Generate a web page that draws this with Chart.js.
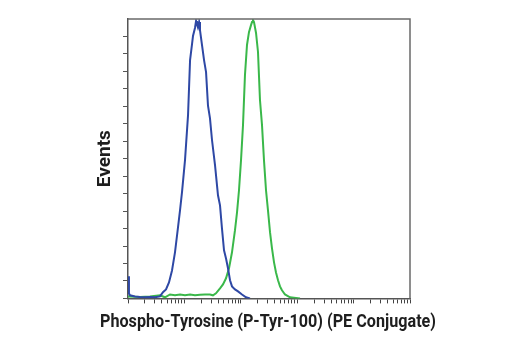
<!DOCTYPE html>
<html>
<head>
<meta charset="utf-8">
<script src="https://cdn.jsdelivr.net/npm/chart.js@4.4.1/dist/chart.umd.min.js"></script>
<style>
  html, body { margin: 0; padding: 0; background: #fff; }
  #wrap { width: 520px; height: 350px; }
</style>
</head>
<body>
<div id="wrap"><canvas id="histChart" width="520" height="350"></canvas></div>
<script>
// intensity channel (log) and % of max events
const blueX = [1, 1.04, 1.085, 1.33, 1.63, 2.0, 2.45, 3.01, 3.69, 4.17, 4.72, 5.33, 6.03, 6.81, 7.70, 8.36, 9.07,
  10.25, 11.6, 12.6, 13.6, 14.2, 15.4, 16.1, 16.7, 17.4, 18.2, 18.9, 20.5, 22.3, 24.2, 26.2, 28.4, 30.9, 34.9,
  39.4, 42.8, 46.4, 50.4, 54.7, 59.3, 64.4, 69.8, 78.9, 89.2, 105, 123.6, 145.6];
const blueY = [7.9, 1.8, 1.1, 0.7, 0.5, 0.4, 0.5, 0.4, 0.7, 2.2, 3.2, 5.7, 10, 16.5, 25.4, 31.5, 38,
  49.5, 65.6, 85.3, 90.7, 93.9, 96.8, 99.3, 98.2, 97.1, 98.9, 96, 90.7, 85.3, 81, 69, 64.5, 56.6, 47.7,
  36.9, 33.3, 25, 17.2, 14.3, 10.8, 6.5, 4.3, 3.2, 2.5, 1.4, 0.4, 0];

const greenX = [1, 1.63, 2.45, 3.69, 4.53, 5.56, 6.81, 8.36, 10.25, 12.6, 15.4, 18.9, 23.2, 28.4, 32.1, 36.3,
  42.8, 48.3, 54.7, 61.8, 69.8, 78.9, 85.7, 92.9, 100.9, 109.4, 118.6, 128.8, 139.6, 151.7, 158.1, 164.5,
  171.4, 186.2, 201.8, 218.8, 237.7, 257.6, 279.9, 303.4, 329.6, 357.3, 388.2, 420.7, 457, 495.5, 537, 608, 745, 1122];
const greenY = [0.7, 0.5, 0.7, 1.1, 0.4, 1.4, 1.1, 1.4, 1.1, 1.4, 1.1, 1.3, 1.4, 1.4, 1.1, 1.8,
  3.6, 5, 7.2, 10.8, 16.5, 24.4, 30.8, 38.7, 49.5, 62, 80, 90.7, 95.3, 97.8, 98.9, 99.6,
  98.9, 95, 88.2, 71, 62, 49.5, 38.7, 31.5, 23.7, 17.9, 12.9, 9.3, 6.5, 4.3, 2.9, 1.4, 0.4, 0];

const xMin = 1, xMax = 100000;
const yMax = 100, yStep = 6.25;
const xTitle = "Phospho-Tyrosine (P-Tyr-100) (PE Conjugate)";
const yTitle = "Events";

const toPoints = (xs, ys) => xs.map((x, i) => ({ x: x, y: ys[i] }));

// log ticks: 1..9 of every decade
function logTicks(min, max) {
  const out = [];
  for (let d = min; d < max; d *= 10) {
    for (let m = 1; m < 10; m++) out.push({ value: d * m, major: m === 1 });
  }
  out.push({ value: max, major: true });
  return out;
}

const fontFamily = "Roboto, 'Liberation Sans', sans-serif";

// closes the plot frame on top and right
const framePlugin = {
  id: "frame",
  afterDraw(chart) {
    const { ctx, chartArea: a } = chart;
    ctx.save();
    ctx.strokeStyle = "#6a6a6a";
    ctx.lineWidth = 1.5;
    ctx.beginPath();
    ctx.moveTo(a.left, a.top);
    ctx.lineTo(a.right, a.top);
    ctx.lineTo(a.right, a.bottom);
    ctx.stroke();
    ctx.restore();
  }
};

// narrow the caption box a little so the bold text comes out condensed
const captionPlugin = {
  id: "caption",
  afterLayout(chart) {
    const t = chart.titleBlock;
    if (!t) return;
    t.left = 100;
    t.right = 436;
    t.width = t.right - t.left;
  }
};

const ctx = document.getElementById("histChart").getContext("2d");
const histChart = new Chart(ctx, {
  type: "line",
  data: {
    datasets: [
      {
        label: "control",
        data: toPoints(blueX, blueY),
        borderColor: "rgb(46,72,165)",
        borderWidth: 2,
        pointRadius: 0,
        fill: false,
        tension: 0,
      },
      {
        label: "treated",
        data: toPoints(greenX, greenY),
        borderColor: "rgb(58,184,74)",
        borderWidth: 2,
        pointRadius: 0,
        fill: false,
        tension: 0,
      },
    ],
  },
  options: {
    responsive: false,
    animation: false,
    events: [],
    layout: { padding: { left: 16, top: 19, right: 0, bottom: 0 } },
    plugins: {
      legend: { display: false },
      tooltip: { enabled: false },
      title: {
        display: true,
        position: "bottom",
        text: xTitle,
        color: "#1e1e1e",
        font: { family: fontFamily, size: 18, weight: "bold" },
        padding: { top: 3, bottom: 17 },
      },
    },
    scales: {
      x: {
        type: "logarithmic",
        min: xMin,
        max: xMax,
        afterBuildTicks: (scale) => { scale.ticks = logTicks(xMin, xMax); },
        afterFit: (scale) => { scale.height = 10; },
        ticks: { display: false },
        grid: {
          drawOnChartArea: false,
          tickLength: 5,
          tickColor: "#444",
          tickWidth: 1,
        },
        border: { color: "#555", width: 1.5 },
      },
      y: {
        min: 0,
        max: yMax,
        ticks: { display: false, stepSize: yStep },
        afterFit: (scale) => { scale.width = 112; },
        grid: {
          drawOnChartArea: false,
          tickLength: 5,
          tickColor: (c) => (c.tick && c.tick.value === yMax ? "rgba(0,0,0,0)" : "#555"),
          tickWidth: 1,
        },
        border: { color: "#555", width: 1.5 },
        title: {
          display: true,
          text: yTitle,
          color: "#1e1e1e",
          font: { family: fontFamily, size: 19, weight: "bold" },
          padding: { top: 78, bottom: 0 },
        },
      },
      // empty right-hand margin
      yRight: {
        position: "right",
        min: 0,
        max: yMax,
        ticks: { display: false },
        grid: { display: false, drawTicks: false },
        border: { display: false },
        afterFit: (scale) => { scale.width = 110; },
      },
    },
  },
  plugins: [framePlugin, captionPlugin],
});
</script>
</body>
</html>
